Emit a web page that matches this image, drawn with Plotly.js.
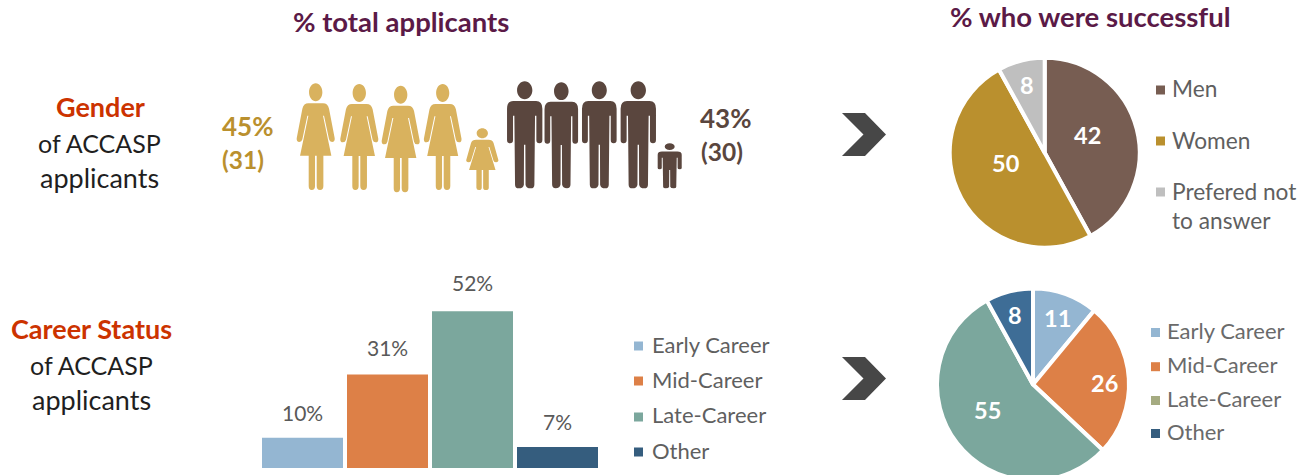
<!DOCTYPE html>
<html><head><meta charset="utf-8">
<script src="https://cdn.plot.ly/plotly-3.0.1.min.js"></script>
<style>html,body{margin:0;padding:0;width:1297px;height:475px;overflow:hidden;background:#fff}</style>
</head><body><div id="chart" style="width:1297px;height:490px"></div>
<script>
// ---- data ----
const genderLabels = ['Men','Women','Prefered not to answer'];
const genderSuccess = [42,50,8];
const genderColors = ['#775d52','#ba902e','#bfbfbf'];
const careerLabels = ['Early Career','Mid-Career','Late-Career','Other'];
const careerApplicants = [10,31,52,7];
const careerBarColors = ['#94b6d2','#dd8047','#7ba79d','#355d7e'];
const careerSuccess = [11,26,55,8];
const careerPieColors = ['#94b6d2','#dd8047','#7ba79d','#3e6d96'];
const careerPieLegendColors = ['#94b6d2','#dd8047','#a5ab81','#355d7e'];

// ---- page geometry ----
const W = 1297, H = 490, FONT = 'Lato, Carlito, sans-serif';
const px = x => x / W, py = y => (H - y) / H;

// ---- pictogram helpers (local units: zoomed reference px) ----
function tf(cmds, cx, top, sx, sy) {
  return cmds.map(c => c[0] + ' ' + c.slice(1).reduce((a, v, i) => {
    if (i % 2 === 0) a.push(px(cx + v * sx / 3).toFixed(5));
    else a.push(py(top + v * sy / 3).toFixed(5));
    return a;
  }, []).join(',')).join(' ');
}
function head(cy, rx, ry) {
  const k = 0.5523;
  return [['M',-rx,cy],['C',-rx,cy-k*ry,-k*rx,cy-ry,0,cy-ry],['C',k*rx,cy-ry,rx,cy-k*ry,rx,cy],
          ['C',rx,cy+k*ry,k*rx,cy+ry,0,cy+ry],['C',-k*rx,cy+ry,-rx,cy+k*ry,-rx,cy],['Z']];
}
const womanBody = [
  ['M',-22,60],['L',22,60],['Q',36,60,40,76],['L',57,165],['Q',58,176,49,176],['Q',42,176,40,168],['L',25,97],['L',22,97],
  ['L',47,217],['L',23,217],['L',23,308],['Q',23,320,13,320],['Q',3,320,3,308],['L',3,217],['L',-2,217],['L',-2,308],
  ['Q',-2,320,-12,320],['Q',-21,320,-21,308],['L',-21,217],['L',-47,217],['L',-22,97],['L',-25,97],['L',-40,168],
  ['Q',-42,176,-49,176],['Q',-58,176,-57,165],['L',-40,76],['Q',-36,60,-22,60],['Z']];
const manBody = [
  ['M',-34,59],['L',34,59],['Q',53,59,53,82],['L',53,176],['Q',53,186,44,186],['Q',35,186,35,176],['L',35,103],['L',31,103],
  ['L',29,310],['Q',29,321,18,321],['Q',4,321,2.5,310],['L',2,190],['L',-2,190],['L',-2.5,310],['Q',-4,321,-18,321],
  ['Q',-29,321,-29,310],['L',-31,103],['L',-35,103],['L',-35,176],['Q',-35,186,-44,186],['Q',-53,186,-53,176],
  ['L',-53,82],['Q',-53,59,-34,59],['Z']];
const shapes = [];
function icon(body, hd, color, cx, top, sx, sy) {
  shapes.push({type:'path', xref:'paper', yref:'paper', layer:'above', line:{width:0}, fillcolor:color,
    path: tf(body.concat(hd), cx, top, sx, sy)});
}
const WOMAN = '#d9b25e', MAN = '#5a463e';
[[315.7,83.3,1,1],[359.3,84,1,.994],[400.7,85.7,1,1],[442.7,84,.99,.994]].forEach(a =>
  icon(womanBody, head(27,20,27), WOMAN, a[0], a[1], a[2], a[3]));
icon(womanBody, head(26,20,26), WOMAN, 482.3, 128.3, .845, .578);
[[524.7,81.3,1,1],[561.3,82.3,.95,.99],[599.3,81.3,.98,1],[638.3,81.3,1,1]].forEach(a =>
  icon(manBody, head(27,23,27), MAN, a[0], a[1], a[2], a[3]));
icon(manBody, head(24,22,24), MAN, 669.7, 143.3, .68, .42);

function chevron(x, y) {
  const p = [[0,0],[23,0],[44,21.5],[23,43],[0,43],[21.5,21.5]];
  shapes.push({type:'path', xref:'paper', yref:'paper', line:{width:0}, fillcolor:'#474747',
    path: p.map((q,i) => (i?'L ':'M ') + px(x+q[0]).toFixed(5) + ',' + py(y+q[1]).toFixed(5)).join(' ') + ' Z'});
}
chevron(842,113); chevron(842,357);

// ---- text helpers ----
const annotations = [];
function txt(x, y, text, size, color, bold, anchor) {
  annotations.push({xref:'paper', yref:'paper', x:px(x), y:py(y), text:text, showarrow:false,
    xanchor:anchor||'center', yanchor:'middle', borderpad:0,
    font:{family:FONT, size:size, color:color, weight:bold?700:400}});
}
function legend(x, y, color, lines, size, tc, offset, ty) {
  const b = 9;
  shapes.push({type:'rect', xref:'paper', yref:'paper', line:{width:0}, fillcolor:color,
    x0:px(x), x1:px(x+b), y0:py(y-b/2), y1:py(y+b/2)});
  lines.forEach((l,i) => txt(x+offset, ty + i*30, l, size, tc, false, 'left'));
}
const PURPLE = '#5b1a47', RED = '#cc3300', DARK = '#1f1f1f', GREY = '#5f5f5f';
txt(401,22,'% total applicants',27.5,PURPLE,true);
txt(1090,17,'% who were successful',27.5,PURPLE,true);
txt(100,107,'Gender',27,RED,true);
txt(99.5,143.5,'of ACCASP',25,DARK);
txt(99.5,177,'applicants',27,DARK);
txt(92,328.5,'Career Status',27,RED,true);
txt(92,365,'of ACCASP',25,DARK);
txt(92,399,'applicants',27,DARK);
txt(247.5,126,'45%',26,'#ba902e',true);
txt(243,159,'(31)',24.5,'#ba902e',true);
txt(725.5,118,'43%',26,MAN,true);
txt(722,152,'(30)',24.5,MAN,true);

legend(1156,90,genderColors[0],[genderLabels[0]],22.7,GREY,15,89);
legend(1156,141,genderColors[1],[genderLabels[1]],22.7,GREY,15,140);
legend(1156,192,genderColors[2],['Prefered not','to answer'],22.7,GREY,15,191);

[346,381,417,452].forEach((y,i) => legend(634,y,careerBarColors[i],[careerLabels[i]],22,GREY,17,y-2));
[332.5,366.7,400.5,433.5].forEach((y,i) => legend(1151,y,careerPieLegendColors[i],[careerLabels[i]],22,'#6a6a6a',15,[330,364,398,431][i]));

// bar value labels, placed on the bar scale
const barLabelShift = [25,27,29,25];
careerLabels.forEach((c,i) => annotations.push({xref:'x', yref:'y', x:c, y:careerApplicants[i],
  text:careerApplicants[i]+'%', showarrow:false, yanchor:'middle', yshift:barLabelShift[i],
  font:{family:FONT, size:21, color:'#595959'}}));

// pie value labels
const pieFont = {family:FONT, size:23.5, color:'#ffffff', weight:700};
[[1087,135],[1006,163],[1027,85]].forEach((p,i) => annotations.push({xref:'paper', yref:'paper', x:px(p[0]), y:py(p[1]),
  text:String(genderSuccess[i]), showarrow:false, xanchor:'center', yanchor:'middle', font:pieFont}));
[[1057,318],[1104,383],[988,410],[1015,315]].forEach((p,i) => annotations.push({xref:'paper', yref:'paper', x:px(p[0]), y:py(p[1]),
  text:String(careerSuccess[i]), showarrow:false, xanchor:'center', yanchor:'middle', font:pieFont}));

function pieDomain(cx, cy, r) {
  return {x:[px(cx-r), px(cx+r)], y:[py(cy+r), py(cy-r)]};
}
const pieCommon = {type:'pie', sort:false, direction:'clockwise', rotation:0, textinfo:'none',
  showlegend:false, hoverinfo:'label+value'};
const traces = [
  {type:'bar', x:careerLabels, y:careerApplicants, marker:{color:careerBarColors}, hoverinfo:'x+y', showlegend:false},
  Object.assign({}, pieCommon, {labels:genderLabels, values:genderSuccess,
    marker:{colors:genderColors, line:{color:'#ffffff', width:4}}, domain:pieDomain(1044.7,152.7,95)}),
  Object.assign({}, pieCommon, {labels:careerLabels, values:careerSuccess,
    marker:{colors:careerPieColors, line:{color:'#ffffff', width:4}}, domain:pieDomain(1033,384.5,96)})
];
const layout = {
  width:W, height:H, margin:{l:0,r:0,t:0,b:0}, paper_bgcolor:'#ffffff', plot_bgcolor:'rgba(0,0,0,0)',
  showlegend:false, bargap:4/85,
  xaxis:{domain:[px(260),px(600)], type:'category', range:[-0.5,3.5], visible:false, fixedrange:true},
  yaxis:{domain:[py(468),py(287)], range:[0,60], visible:false, fixedrange:true},
  shapes:shapes, annotations:annotations, font:{family:FONT}
};
Plotly.newPlot('chart', traces, layout, {displayModeBar:false, staticPlot:true});
</script></body></html>
